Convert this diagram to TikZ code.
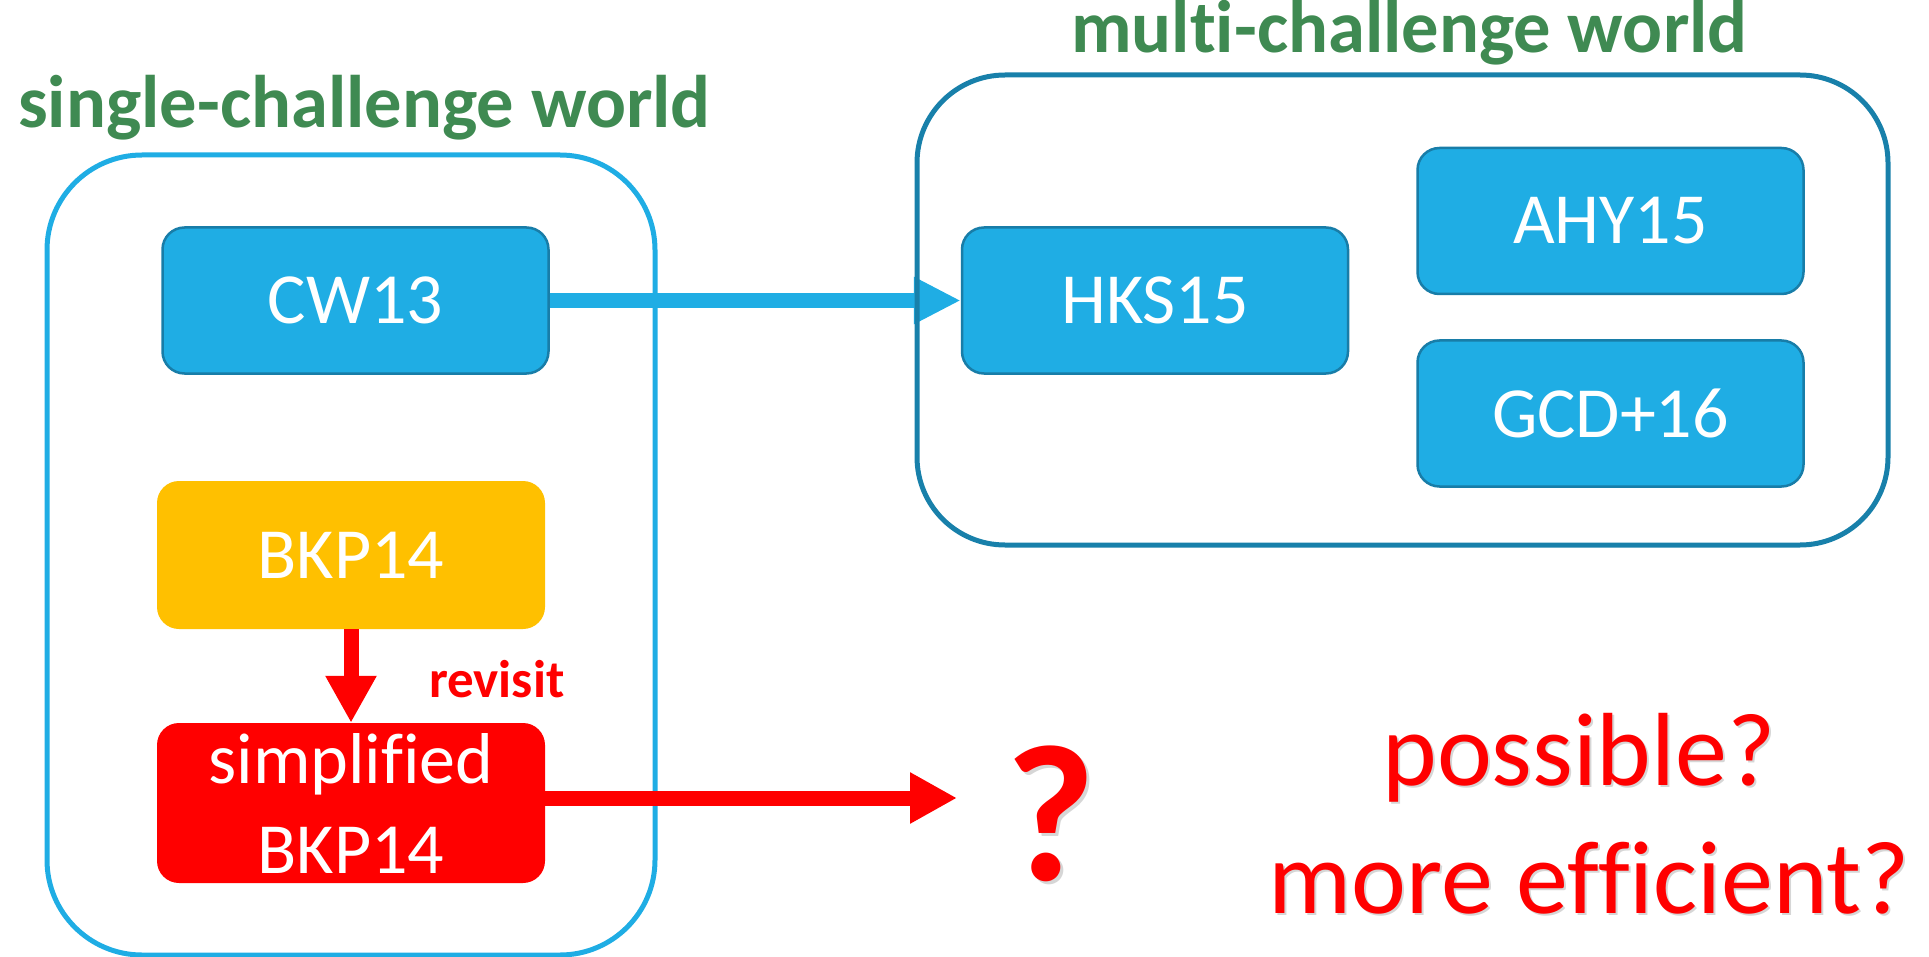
\documentclass[tikz,border=0pt]{standalone}
\usepackage{fontspec}
\setmainfont{Carlito}[Ligatures=NoCommon]
\usetikzlibrary{arrows.meta}
\pgfdeclarelayer{background}
\pgfsetlayers{background,main}

\definecolor{skyfill}{RGB}{31,173,228}
\definecolor{skyedge}{RGB}{24,125,168}
\definecolor{frameblue}{RGB}{24,128,170}
\definecolor{gold}{RGB}{255,192,0}
\definecolor{titlegreen}{RGB}{63,138,82}
\definecolor{alarm}{RGB}{255,0,0}

\tikzset{
  card/.style={rounded corners=22pt, inner sep=0pt, text=white, align=center,
    font=\fontsize{72}{90}\selectfont, minimum width=386pt},
  bluecard/.style={card, fill=skyfill, draw=skyedge, line width=2.5pt, minimum height=146pt},
  goldcard/.style={card, fill=gold, minimum width=388pt, minimum height=148pt},
  redcard/.style={card, fill=alarm, minimum width=388pt, minimum height=160pt},
  worldframe/.style={rounded corners=95pt, inner sep=0pt, line width=5pt, fill=none},
  worldtitle/.style={inner sep=0pt, anchor=base west, text=titlegreen,
    font=\bfseries\fontsize{74.5}{86}\selectfont},
  bluearrow/.style={draw=skyfill, line width=15pt, -{Triangle[length=47pt,width=44pt]}},
  redarrow/.style={draw=alarm, line width=15pt, -{Triangle[length=47pt,width=48pt]}},
  shade/.style={text=black, opacity=0.16},
  bigask/.style={inner sep=0pt, anchor=base, font=\fontsize{104}{120}\selectfont},
}

\begin{document}
\begin{tikzpicture}[x=1pt, y=-1pt]
\useasboundingbox (0,0) rectangle (1929,957);

% titles
\node[worldtitle] (singletitle) at (18,128) {single-challenge world};
\node[worldtitle] (multititle) at (1071,53) {multi-challenge world};

% single-challenge world
\node[bluecard] (cw) at (355.5,300.5) {CW13};
\node[goldcard] (bkp) at (351,555) {BKP14};
\node[redcard] (simp) at (351,803) {simplified\\BKP14};

% multi-challenge world
\node[bluecard] (hks) at (1155,300.5) {HKS15};
\node[bluecard] (ahy) at (1610.5,221) {AHY15};
\node[bluecard] (gcd) at (1610.5,413.5) {GCD+16};

% frames and the long connector underneath the cards
\begin{pgfonlayer}{background}
  \node[worldframe, draw=skyfill, minimum width=608pt, minimum height=800pt] (single) at (351,555) {};
  \draw[bluearrow] (cw) -- (hks);
  \node[worldframe, draw=frameblue, minimum width=971pt, minimum height=470pt, rounded corners=88pt] (multi) at (1402.5,310) {};
\end{pgfonlayer}

% revisit step
\draw[redarrow] (bkp) -- (simp);
\node[inner sep=0pt, anchor=base west, text=alarm, font=\bfseries\fontsize{53}{60}\selectfont] (revisit) at (429,697) {revisit};

% open question
\coordinate (qtip) at (957,798);
\draw[redarrow] (simp.east |- qtip) -- (qtip);
\node[shade, inner sep=0pt, anchor=base, font=\bfseries\fontsize{195}{200}\selectfont] at (1054,883) {?};
\node[inner sep=0pt, anchor=base, text=alarm, font=\bfseries\fontsize{195}{200}\selectfont] (qmark) at (1051,880) {?};

\node[bigask, shade] at (1581,787) {possible?};
\node[bigask, text=alarm] (possible) at (1579,785) {possible?};
\node[bigask, shade] at (1591,915) {more efficient?};
\node[bigask, text=alarm] (efficient) at (1589,913) {more efficient?};
\end{tikzpicture}
\end{document}
